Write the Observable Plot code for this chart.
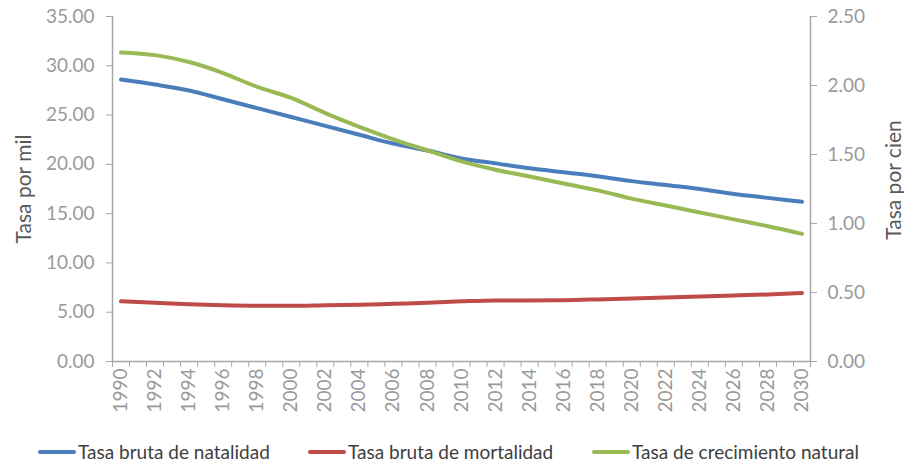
<!DOCTYPE html>
<html>
<head>
<meta charset="utf-8">
<script src="https://cdn.jsdelivr.net/npm/d3@7"></script>
<script src="https://cdn.jsdelivr.net/npm/@observablehq/plot@0.6"></script>
<style>
  body { margin: 0; background: #fff; font-family: Lato, "Open Sans", sans-serif; }
  #wrap { width: 904px; position: relative; }
  #legend { position: relative; height: 30px; width: 904px; }
  .item { position: absolute; top: 4px; display: flex; align-items: center; font-size: 19px; color: #404040; white-space: nowrap; }
  .sw { display: inline-block; width: 38px; height: 4px; border-radius: 2px; margin-right: 2px; }
</style>
</head>
<body>
<div id="wrap"></div>
<script>
const years = [1990,1992,1994,1996,1998,2000,2002,2004,2006,2008,2010,2012,2014,2016,2018,2020,2022,2024,2026,2028,2030];
const natalidad = [28.6,28.1,27.5,26.6,25.7,24.8,23.9,23.0,22.1,21.4,20.6,20.1,19.6,19.2,18.8,18.3,17.9,17.5,17.0,16.6,16.2];
const mortalidad = [6.1,5.95,5.8,5.7,5.65,5.65,5.7,5.75,5.85,5.95,6.1,6.2,6.2,6.22,6.3,6.4,6.5,6.6,6.7,6.8,6.95];
const crecimiento = [2.24,2.22,2.17,2.09,1.99,1.91,1.80,1.70,1.61,1.53,1.45,1.39,1.34,1.29,1.24,1.18,1.13,1.08,1.03,0.98,0.925];
const seriesNames = ["Tasa bruta de natalidad","Tasa bruta de mortalidad","Tasa de crecimiento natural"];
const colors = ["#4a7ebb","#be4b48","#98b954"];
const leftTicks = [0,5,10,15,20,25,30,35];
const rightTicks = [0,0.5,1,1.5,2,2.5];
const labelYears = d3.range(1990, 2031, 2);
const RATIO = 35 / 2.5;

const rows = [];
years.forEach((yr, i) => {
  rows.push({year: yr, v: natalidad[i], s: seriesNames[0]});
  rows.push({year: yr, v: mortalidad[i], s: seriesNames[1]});
  rows.push({year: yr, v: crecimiento[i] * RATIO, s: seriesNames[2]});
});

const axisColor = "#a6a6a6";
const labelColor = "#9a9a9a";

const chart = Plot.plot({
  width: 904,
  height: 436,
  marginLeft: 112,
  marginRight: 94,
  marginTop: 16,
  marginBottom: 75,
  style: {fontFamily: "Lato, 'Open Sans', sans-serif", fontSize: "19px", background: "#fff"},
  x: {domain: [1989.5, 2030.5]},
  y: {domain: [0, 35]},
  color: {domain: seriesNames, range: colors},
  marks: [
    Plot.axisY({anchor: "left", ticks: leftTicks, tickFormat: d => d.toFixed(2), tickSize: 6, tickPadding: 12, stroke: axisColor, fill: labelColor, label: null, fontSize: 19}),
    Plot.axisY({anchor: "right", ticks: rightTicks.map(t => t * RATIO), tickFormat: d => (d / RATIO).toFixed(2), tickSize: 6, tickPadding: 11, stroke: axisColor, fill: labelColor, label: null, fontSize: 19}),
    Plot.axisX({ticks: d3.range(1989.5, 2031, 1), tickFormat: () => "", tickSize: 6, stroke: axisColor, label: null}),
    Plot.axisX({ticks: labelYears, tickFormat: d => String(d), tickSize: 0, tickPadding: 7, tickRotate: -90, fill: labelColor, label: null, fontSize: 19}),
    Plot.ruleX([1989.5, 2030.5], {stroke: axisColor, strokeWidth: 1.5}),
    Plot.ruleY([0], {stroke: axisColor, strokeWidth: 1.5}),
    Plot.line(rows, {x: "year", y: "v", z: "s", stroke: "s", strokeWidth: 4, curve: "monotone-x"}),
    Plot.text(["Tasa por mil"], {frameAnchor: "left", textAnchor: "middle", dx: -88, rotate: -90, fill: "#595959", fontSize: 21}),
    Plot.text(["Tasa por cien"], {frameAnchor: "right", textAnchor: "middle", dx: 84, dy: -9, rotate: -90, fill: "#595959", fontSize: 21})
  ]
});
document.getElementById("wrap").appendChild(chart);

const legend = document.createElement("div");
legend.id = "legend";
const lefts = [38, 308, 592];
seriesNames.forEach((n, i) => {
  const it = document.createElement("div");
  it.className = "item";
  it.style.left = lefts[i] + "px";
  it.innerHTML = `<span class="sw" style="background:${colors[i]}"></span><span>${n}</span>`;
  legend.appendChild(it);
});
document.getElementById("wrap").appendChild(legend);
</script>
</body>
</html>
